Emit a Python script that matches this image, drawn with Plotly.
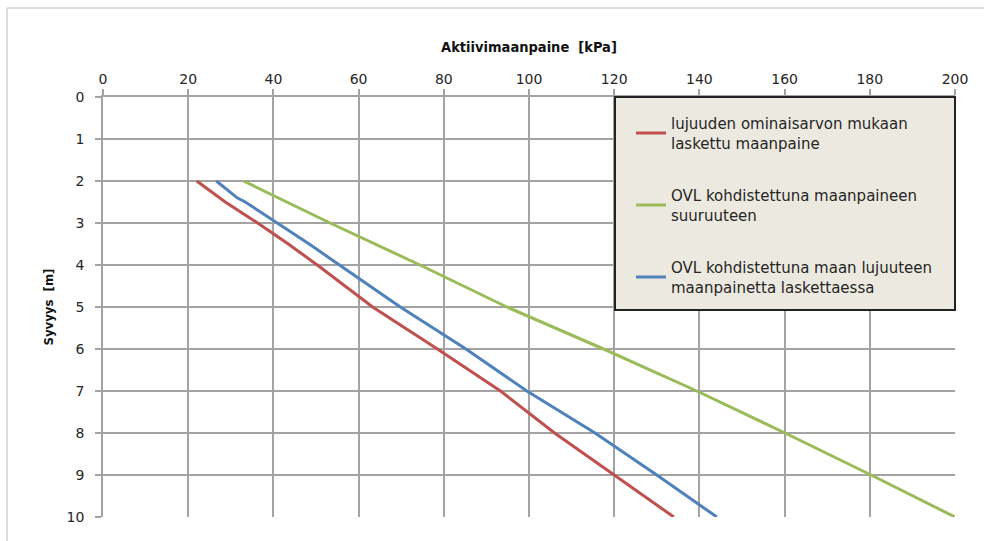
import plotly.graph_objects as go

# depth [m]
depth_red = [2.0, 2.5, 3.0, 3.5, 4.0, 4.5, 5.0, 6.0, 7.0, 8.0, 9.0, 10.0]
red_kpa = [22.0, 28.7, 36.3, 43.5, 50.3, 56.8, 63.3, 78.5, 93.3, 106.0, 120.0, 134.0]

depth_blue = [2.0, 2.4, 2.5, 3.0, 3.5, 4.0, 4.5, 5.0, 6.0, 7.0, 8.0, 9.0, 10.0]
blue_kpa = [26.6, 31.5, 33.4, 41.0, 48.4, 55.5, 62.7, 69.8, 85.2, 99.5, 115.5, 130.0, 144.1]

depth_green = [2.0, 2.5, 3.0, 4.0, 5.0, 6.0, 7.0, 8.0, 9.0, 10.0]
green_kpa = [33.0, 43.0, 53.3, 74.4, 94.8, 117.5, 139.4, 160.1, 180.3, 200.0]

names = [
    "lujuuden ominaisarvon mukaan<br>laskettu maanpaine",
    "OVL kohdistettuna maanpaineen<br>suuruuteen",
    "OVL kohdistettuna maan lujuuteen<br>maanpainetta laskettaessa",
]
colors = ["#c0504d", "#9bbb59", "#4f81bd"]

x_title = "Aktiivimaanpaine  [kPa]"
y_title = "Syvyys  [m]"

W, H = 984, 541
L, R, T, B = 103, 29, 97, 24
pw, ph = W - L - R, H - T - B

fig = go.Figure()
series = [(red_kpa, depth_red), (green_kpa, depth_green), (blue_kpa, depth_blue)]
for i, ((xs, ys), nm, c) in enumerate(zip(series, names, colors)):
    fig.add_trace(go.Scatter(x=xs, y=ys, mode="lines", name=nm, legendgroup=f"g{i}",
                             line=dict(color=c, width=3)))

def px(x):
    return (x - L) / pw

def py(y):
    return 1 - (y - T) / ph

# outer chart border (top and left visible)
fig.add_shape(type="rect", xref="paper", yref="paper", x0=px(7), x1=px(995), y0=py(8), y1=py(560),
              line=dict(color="#bcbcbc", width=1), fillcolor="rgba(0,0,0,0)", layer="below")
# legend box
fig.add_shape(type="rect", xref="paper", yref="paper", x0=px(615), x1=px(955), y0=py(97), y1=py(310),
              line=dict(color="#222222", width=2), fillcolor="#ece9e0", layer="above")

tickfont = dict(family="DejaVu Sans", size=14, color="#262626")
xtitlefont = dict(family="DejaVu Sans Condensed", size=14.5, color="#111111", weight="bold")
ytitlefont = dict(family="DejaVu Sans Condensed", size=13, color="#111111", weight="bold")

fig.update_layout(
    width=W, height=H,
    margin=dict(l=L, r=R, t=T, b=B, pad=0),
    paper_bgcolor="white", plot_bgcolor="white",
    showlegend=True,
    legend=dict(x=px(631), y=py(107), xanchor="left", yanchor="top",
                bgcolor="rgba(0,0,0,0)", borderwidth=0,
                font=dict(family="DejaVu Sans", size=15, color="#262626"),
                tracegroupgap=30, itemwidth=30),
    xaxis=dict(side="top", range=[0, 200], dtick=20, tick0=0,
               showgrid=True, gridcolor="#a3a3a3", gridwidth=1.5,
               showline=True, linecolor="#a3a3a3", linewidth=1.5,
               ticks="outside", ticklen=6, tickcolor="#a3a3a3", tickwidth=1.5,
               tickfont=tickfont, zeroline=False,
               title=dict(text=x_title, font=xtitlefont, standoff=15)),
    yaxis=dict(range=[10, 0], dtick=1, tick0=0,
               showgrid=True, gridcolor="#a3a3a3", gridwidth=1.5,
               showline=True, linecolor="#a3a3a3", linewidth=1.5,
               ticks="outside", ticklen=6, tickcolor="#a3a3a3", tickwidth=1.5,
               tickfont=tickfont, zeroline=False, ticklabelstandoff=8,
               title=dict(text=y_title, font=ytitlefont, standoff=10)),
)

fig.write_html("out.html")
